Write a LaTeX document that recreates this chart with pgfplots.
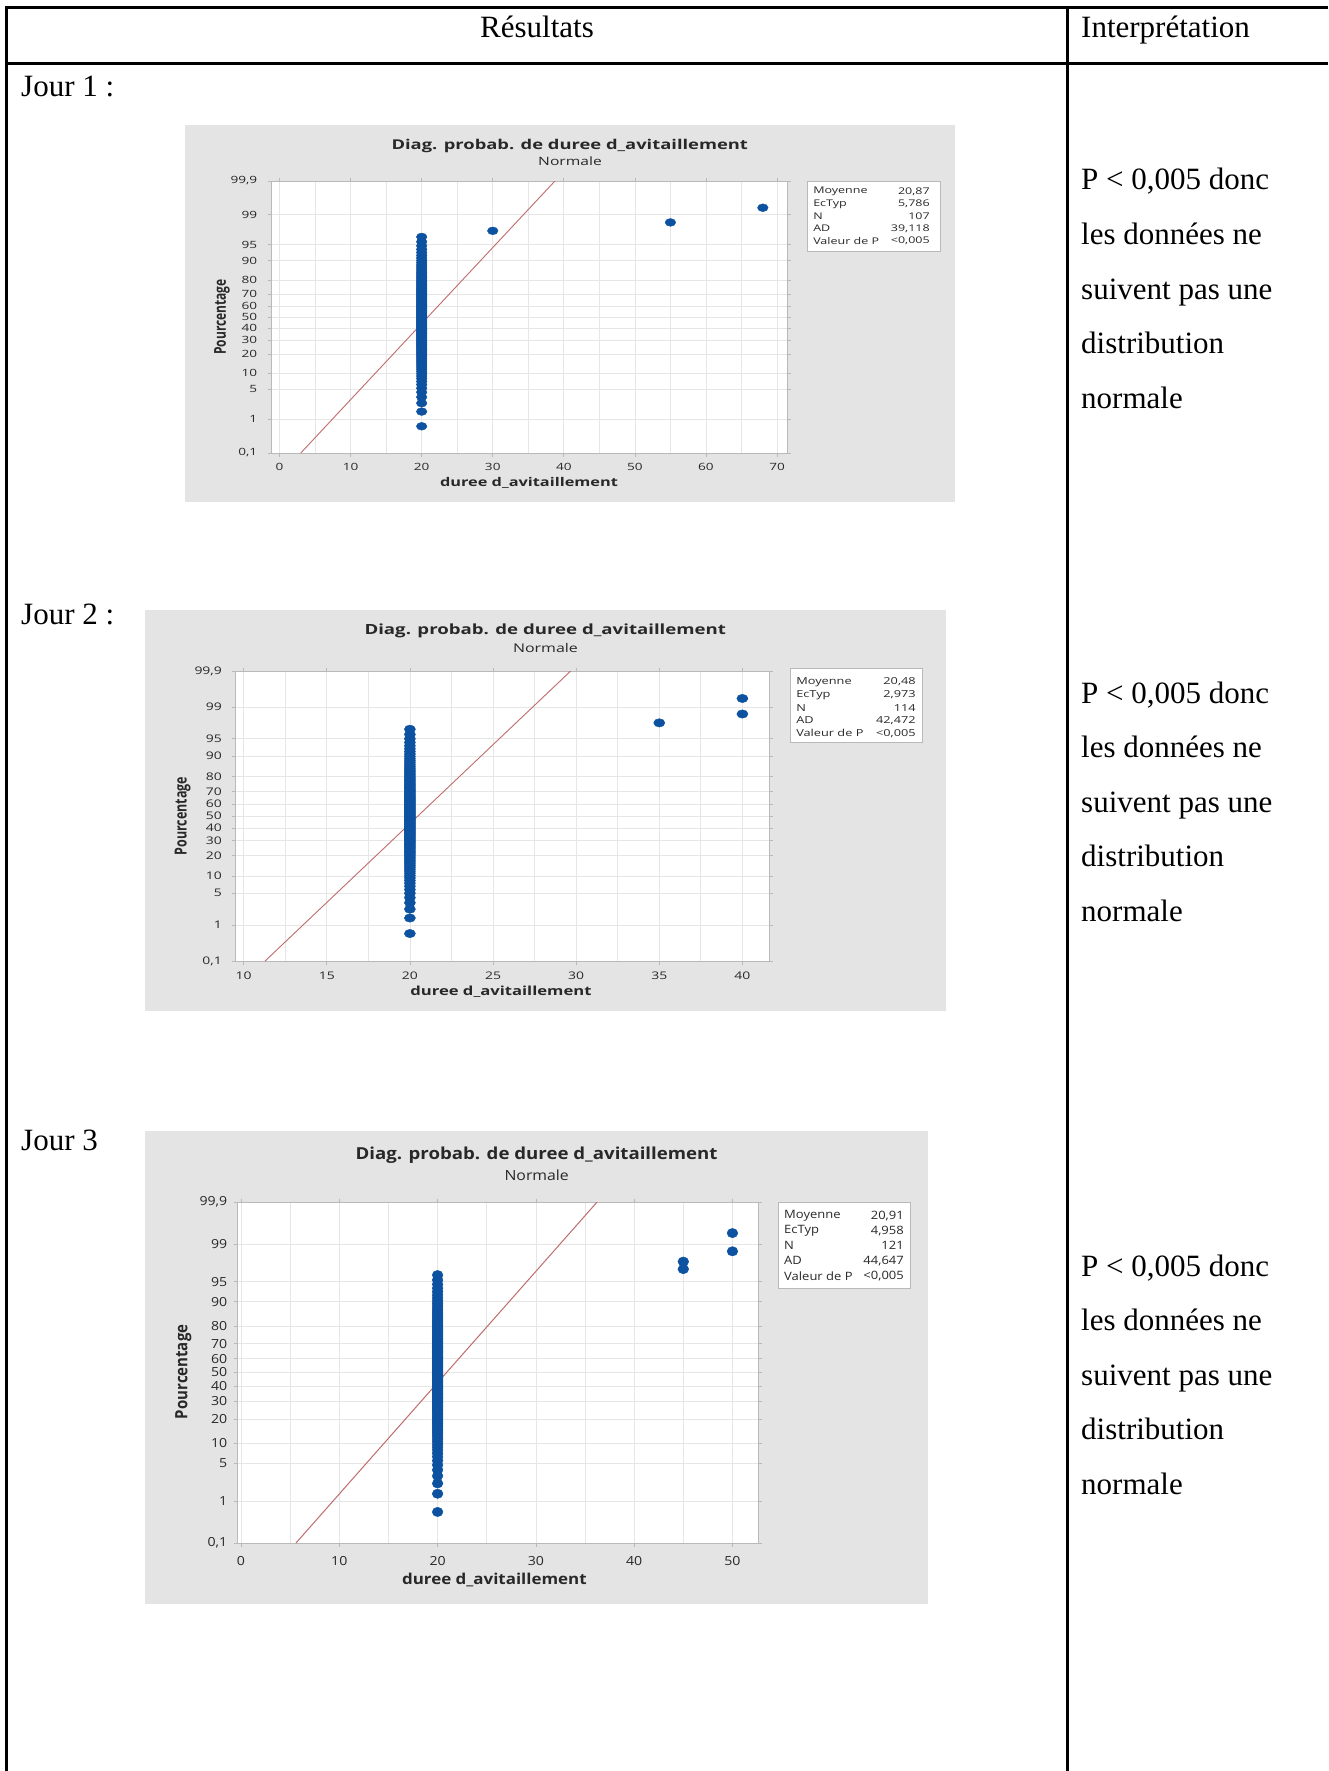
\documentclass[border=0pt]{standalone}
\usepackage{fontspec}
\setmainfont{Liberation Serif}
\newfontfamily\mtb{Open Sans}
\usepackage{pgfplots}
\usepackage{pgfplotstable}
\pgfplotsset{compat=1.18}

\newcommand{\fs}[1]{\fontsize{#1}{#1}\selectfont}
\definecolor{bggray}{RGB}{228,228,228}
\definecolor{gridgray}{RGB}{230,230,230}
\definecolor{framegray}{RGB}{185,185,185}
\definecolor{mtbblue}{RGB}{12,82,160}
\definecolor{fitred}{RGB}{192,108,108}
\definecolor{mtbtext}{RGB}{40,40,40}

% day 1 : duree d'avitaillement (x) and normal score of the plotting position (z)
\pgfplotstableread[row sep=\\]{
x z\\
20 -2.483\\ 20 -2.149\\ 20 -1.958\\ 20 -1.820\\ 20 -1.709\\ 20 -1.617\\ 20 -1.536\\ 20 -1.464\\ 20 -1.399\\ 20 -1.339\\
20 -1.284\\ 20 -1.232\\ 20 -1.184\\ 20 -1.138\\ 20 -1.095\\ 20 -1.053\\ 20 -1.013\\ 20 -0.975\\ 20 -0.938\\ 20 -0.903\\
20 -0.868\\ 20 -0.834\\ 20 -0.802\\ 20 -0.770\\ 20 -0.739\\ 20 -0.709\\ 20 -0.679\\ 20 -0.650\\ 20 -0.621\\ 20 -0.593\\
20 -0.566\\ 20 -0.539\\ 20 -0.512\\ 20 -0.485\\ 20 -0.459\\ 20 -0.433\\ 20 -0.408\\ 20 -0.383\\ 20 -0.358\\ 20 -0.333\\
20 -0.308\\ 20 -0.284\\ 20 -0.260\\ 20 -0.236\\ 20 -0.212\\ 20 -0.188\\ 20 -0.164\\ 20 -0.141\\ 20 -0.117\\ 20 -0.094\\
20 -0.070\\ 20 -0.047\\ 20 -0.023\\ 20 0.000\\
20 0.023\\ 20 0.047\\ 20 0.070\\ 20 0.094\\ 20 0.117\\ 20 0.141\\ 20 0.164\\ 20 0.188\\ 20 0.212\\ 20 0.236\\
20 0.260\\ 20 0.284\\ 20 0.308\\ 20 0.333\\ 20 0.358\\ 20 0.383\\ 20 0.408\\ 20 0.433\\ 20 0.459\\ 20 0.485\\
20 0.512\\ 20 0.539\\ 20 0.566\\ 20 0.593\\ 20 0.621\\ 20 0.650\\ 20 0.679\\ 20 0.709\\ 20 0.739\\ 20 0.770\\
20 0.802\\ 20 0.834\\ 20 0.868\\ 20 0.903\\ 20 0.938\\ 20 0.975\\ 20 1.013\\ 20 1.053\\ 20 1.095\\ 20 1.138\\
20 1.184\\ 20 1.232\\ 20 1.284\\ 20 1.339\\ 20 1.399\\ 20 1.464\\ 20 1.536\\ 20 1.617\\ 20 1.709\\ 20 1.820\\
30 1.958\\ 55 2.149\\ 68 2.483\\
}\dayone

\pgfplotstableread[row sep=\\]{
x z\\
20 -2.505\\ 20 -2.174\\ 20 -1.985\\ 20 -1.849\\ 20 -1.739\\ 20 -1.647\\ 20 -1.568\\ 20 -1.497\\ 20 -1.433\\ 20 -1.374\\
20 -1.320\\ 20 -1.269\\ 20 -1.221\\ 20 -1.176\\ 20 -1.134\\ 20 -1.093\\ 20 -1.054\\ 20 -1.017\\ 20 -0.981\\ 20 -0.946\\
20 -0.912\\ 20 -0.879\\ 20 -0.847\\ 20 -0.816\\ 20 -0.786\\ 20 -0.757\\ 20 -0.728\\ 20 -0.700\\ 20 -0.672\\ 20 -0.645\\
20 -0.618\\ 20 -0.592\\ 20 -0.566\\ 20 -0.540\\ 20 -0.515\\ 20 -0.490\\ 20 -0.466\\ 20 -0.441\\ 20 -0.417\\ 20 -0.393\\
20 -0.370\\ 20 -0.347\\ 20 -0.323\\ 20 -0.300\\ 20 -0.277\\ 20 -0.255\\ 20 -0.232\\ 20 -0.210\\ 20 -0.187\\ 20 -0.165\\
20 -0.143\\ 20 -0.121\\ 20 -0.099\\ 20 -0.077\\ 20 -0.055\\ 20 -0.033\\ 20 -0.011\\
20 0.011\\ 20 0.033\\ 20 0.055\\ 20 0.077\\ 20 0.099\\ 20 0.121\\ 20 0.143\\ 20 0.165\\ 20 0.187\\ 20 0.210\\
20 0.232\\ 20 0.255\\ 20 0.277\\ 20 0.300\\ 20 0.323\\ 20 0.347\\ 20 0.370\\ 20 0.393\\ 20 0.417\\ 20 0.441\\
20 0.466\\ 20 0.490\\ 20 0.515\\ 20 0.540\\ 20 0.566\\ 20 0.592\\ 20 0.618\\ 20 0.645\\ 20 0.672\\ 20 0.700\\
20 0.728\\ 20 0.757\\ 20 0.786\\ 20 0.816\\ 20 0.847\\ 20 0.879\\ 20 0.912\\ 20 0.946\\ 20 0.981\\ 20 1.017\\
20 1.054\\ 20 1.093\\ 20 1.134\\ 20 1.176\\ 20 1.221\\ 20 1.269\\ 20 1.320\\ 20 1.374\\ 20 1.433\\ 20 1.497\\
20 1.568\\ 20 1.647\\ 20 1.739\\ 20 1.849\\
35 1.985\\ 40 2.174\\ 40 2.505\\
}\daytwo

\pgfplotstableread[row sep=\\]{
x z\\
20 -2.527\\ 20 -2.197\\ 20 -2.010\\ 20 -1.874\\ 20 -1.766\\ 20 -1.676\\ 20 -1.598\\ 20 -1.528\\ 20 -1.464\\ 20 -1.406\\
20 -1.353\\ 20 -1.303\\ 20 -1.256\\ 20 -1.212\\ 20 -1.170\\ 20 -1.130\\ 20 -1.092\\ 20 -1.055\\ 20 -1.020\\ 20 -0.985\\
20 -0.952\\ 20 -0.920\\ 20 -0.889\\ 20 -0.859\\ 20 -0.829\\ 20 -0.801\\ 20 -0.772\\ 20 -0.745\\ 20 -0.718\\ 20 -0.692\\
20 -0.666\\ 20 -0.640\\ 20 -0.615\\ 20 -0.590\\ 20 -0.566\\ 20 -0.542\\ 20 -0.518\\ 20 -0.494\\ 20 -0.471\\ 20 -0.448\\
20 -0.426\\ 20 -0.403\\ 20 -0.381\\ 20 -0.359\\ 20 -0.337\\ 20 -0.315\\ 20 -0.293\\ 20 -0.272\\ 20 -0.250\\ 20 -0.229\\
20 -0.208\\ 20 -0.187\\ 20 -0.166\\ 20 -0.145\\ 20 -0.124\\ 20 -0.103\\ 20 -0.083\\ 20 -0.062\\ 20 -0.041\\ 20 -0.021\\
20 0.000\\
20 0.021\\ 20 0.041\\ 20 0.062\\ 20 0.083\\ 20 0.103\\ 20 0.124\\ 20 0.145\\ 20 0.166\\ 20 0.187\\ 20 0.208\\
20 0.229\\ 20 0.250\\ 20 0.272\\ 20 0.293\\ 20 0.315\\ 20 0.337\\ 20 0.359\\ 20 0.381\\ 20 0.403\\ 20 0.426\\
20 0.448\\ 20 0.471\\ 20 0.494\\ 20 0.518\\ 20 0.542\\ 20 0.566\\ 20 0.590\\ 20 0.615\\ 20 0.640\\ 20 0.666\\
20 0.692\\ 20 0.718\\ 20 0.745\\ 20 0.772\\ 20 0.801\\ 20 0.829\\ 20 0.859\\ 20 0.889\\ 20 0.920\\ 20 0.952\\
20 0.985\\ 20 1.020\\ 20 1.055\\ 20 1.092\\ 20 1.130\\ 20 1.170\\ 20 1.212\\ 20 1.256\\ 20 1.303\\ 20 1.353\\
20 1.406\\ 20 1.464\\ 20 1.528\\ 20 1.598\\ 20 1.676\\ 20 1.766\\
45 1.874\\ 45 2.010\\ 50 2.197\\ 50 2.527\\
}\daythree

\pgfplotsset{
  mtbaxis/.style={
    scale only axis,
    clip mode=individual,
    axis background/.style={fill=white},
    axis line style={draw=framegray, line width=0.8pt},
    /pgf/number format/assume math mode=true,
    every axis title shift=0pt,
    ymin=-3.0902, ymax=3.0902,
    ytick={-3.0902,-2.3263,-1.6449,-1.2816,-0.8416,-0.5244,-0.2533,0,0.2533,0.5244,0.8416,1.2816,1.6449,2.3263,3.0902},
    yticklabels={{0,1},1,5,10,20,30,40,50,60,70,80,90,95,99,{99,9}},
    minor x tick num=1,
    grid=both,
    major grid style={draw=gridgray, line width=0.7pt},
    minor grid style={draw=gridgray, line width=0.7pt},
    tick align=outside,
    major tick length=3.5pt,
    minor tick length=0pt,
    tick style={draw=framegray, line width=0.7pt},
    tick label style={text=mtbtext},
    every axis label/.append style={text=mtbtext},
    every axis title/.append style={text=mtbtext},
  },
}

\newcommand{\srow}[6]{%
  \node[anchor=west,#6] at (#1pt,-#3pt) {#4};
  \node[anchor=east,#6] at (#2pt,-#3pt) {#5};}

\tikzset{
  body/.style={anchor=base west, inner sep=0pt, font=\fs{31}},
  lgA/.style={font=\mtb\fs{9.2}, text=mtbtext, xscale=1.36, inner sep=0pt},
  lgB/.style={font=\mtb\fs{9.6}, text=mtbtext, xscale=1.33, inner sep=0pt},
  lgC/.style={font=\mtb\fs{11.5}, text=mtbtext, xscale=1.13, inner sep=0pt},
}

\begin{document}
\begin{tikzpicture}
\useasboundingbox (0,0) rectangle (1328pt,-1771pt);
\fill[white] (0,0) rectangle (1328pt,-1771pt);

% ---------- table ----------
\draw[line width=3pt] (6pt,-1771pt) -- (6pt,-8pt) -- (1328pt,-8pt);
\draw[line width=3pt] (6pt,-64pt) -- (1328pt,-64pt);
\draw[line width=3pt] (1067pt,-8pt) -- (1067pt,-1771pt);

\node[anchor=base, inner sep=0pt, font=\fs{31}] at (537pt,-38pt) {Résultats};
\node[body] at (1081pt,-38pt) {Interprétation};
\node[body] at (21pt,-97pt) {Jour 1 :};
\node[body] at (21pt,-624pt) {Jour 2 :};
\node[body] at (21pt,-1150pt) {Jour 3};

\foreach \y/\t in {0/{P < 0,005 donc},1/{les données ne},2/{suivent pas une},3/{distribution},4/{normale}}{
  \node[body] at (1081pt,-190pt-\y*54.5pt) {\t};
  \node[body] at (1081pt,-703pt-\y*54.5pt) {\t};
  \node[body] at (1081pt,-1276pt-\y*54.5pt) {\t};
}

% ---------- chart 1 ----------
\fill[bggray] (185pt,-125pt) rectangle (955pt,-502pt);
\begin{axis}[mtbaxis,
  at={(271pt,-453pt)}, anchor=south west, width=516pt, height=272pt,
  xmin=-1.2, xmax=71.4, xtick={0,10,...,70},
  tick label style={font=\mtb\fs{10}, xscale=1.36},
  xticklabel style={yshift=-3.4pt},
  yticklabel style={xshift=-4pt},
  title={\bfseries Diag. probab. de duree d\_avitaillement},
  title style={at={(0.579,1.128)}, anchor=center, font=\mtb\fs{13.5}, xscale=1.36},
  xlabel={\bfseries duree d\_avitaillement},
  xlabel style={at={(axis description cs:0.5,-0.109)}, anchor=center, font=\mtb\fs{12}, xscale=1.36},
  ylabel={\bfseries Pourcentage},
  ylabel style={at={(axis description cs:-0.095,0.5)}, anchor=center, font=\mtb\fs{12}, yscale=1.36},
]
\addplot[fitred, line width=0.9pt] coordinates {(2.99,-3.0902) (38.75,3.0902)};
\addplot[only marks, mark=*, mark size=3.9pt, color=mtbblue, mark options={xscale=1.36}] table[x=x,y=z] {\dayone};
\end{axis}
\node[font=\mtb\fs{11.5}, text=mtbtext, xscale=1.36] at (570pt,-161.5pt) {Normale};
\draw[framegray, fill=white, line width=0.6pt] (807pt,-181pt) rectangle (940pt,-251pt);
\srow{813}{930}{191.7}{Moyenne}{20,87}{lgA}
\srow{813}{930}{204}{EcTyp}{5,786}{lgA}
\srow{813}{930}{216.3}{N}{107}{lgA}
\srow{813}{930}{228.6}{AD}{39,118}{lgA}
\srow{813}{930}{240.9}{Valeur de P}{<0,005}{lgA}

% ---------- chart 2 ----------
\fill[bggray] (145pt,-610pt) rectangle (946pt,-1011pt);
\begin{axis}[mtbaxis,
  at={(235pt,-961pt)}, anchor=south west, width=534pt, height=290pt,
  xmin=9.48, xmax=41.6, xtick={10,15,...,40},
  tick label style={font=\mtb\fs{10.5}, xscale=1.33},
  xticklabel style={yshift=-3.8pt},
  yticklabel style={xshift=-3.7pt},
  title={\bfseries Diag. probab. de duree d\_avitaillement},
  title style={at={(0.581,1.138)}, anchor=center, font=\mtb\fs{14}, xscale=1.33},
  xlabel={\bfseries duree d\_avitaillement},
  xlabel style={at={(axis description cs:0.498,-0.106)}, anchor=center, font=\mtb\fs{12.5}, xscale=1.33},
  ylabel={\bfseries Pourcentage},
  ylabel style={at={(axis description cs:-0.098,0.5)}, anchor=center, font=\mtb\fs{12.5}, yscale=1.33},
]
\addplot[fitred, line width=0.9pt] coordinates {(11.29,-3.0902) (29.67,3.0902)};
\addplot[only marks, mark=*, mark size=4.2pt, color=mtbblue, mark options={xscale=1.33}] table[x=x,y=z] {\daytwo};
\end{axis}
\node[font=\mtb\fs{12}, text=mtbtext, xscale=1.33] at (545.5pt,-647.7pt) {Normale};
\draw[framegray, fill=white, line width=0.6pt] (790pt,-668pt) rectangle (922pt,-742pt);
\srow{796}{916}{682}{Moyenne}{20,48}{lgB}
\srow{796}{916}{694.8}{EcTyp}{2,973}{lgB}
\srow{796}{916}{707.6}{N}{114}{lgB}
\srow{796}{916}{720.4}{AD}{42,472}{lgB}
\srow{796}{916}{733.2}{Valeur de P}{<0,005}{lgB}

% ---------- chart 3 ----------
\fill[bggray] (145pt,-1131pt) rectangle (928pt,-1604pt);
\begin{axis}[mtbaxis,
  at={(237pt,-1543pt)}, anchor=south west, width=521pt, height=341pt,
  xmin=-0.41, xmax=52.6, xtick={0,10,...,50},
  tick label style={font=\mtb\fs{12.5}, xscale=1.13},
  xticklabel style={yshift=-6.3pt},
  yticklabel style={xshift=-2pt},
  title={\bfseries Diag. probab. de duree d\_avitaillement},
  title style={at={(0.575,1.136)}, anchor=center, font=\mtb\fs{16.5}, xscale=1.13},
  xlabel={\bfseries duree d\_avitaillement},
  xlabel style={at={(axis description cs:0.494,-0.109)}, anchor=center, font=\mtb\fs{15}, xscale=1.13},
  ylabel={\bfseries Pourcentage},
  ylabel style={at={(axis description cs:-0.103,0.502)}, anchor=center, font=\mtb\fs{15}, yscale=1.13},
]
\addplot[fitred, line width=1pt] coordinates {(5.59,-3.0902) (36.23,3.0902)};
\addplot[only marks, mark=*, mark size=4.7pt, color=mtbblue, mark options={xscale=1.15}] table[x=x,y=z] {\daythree};
\end{axis}
\node[font=\mtb\fs{14}, text=mtbtext, xscale=1.13] at (536.7pt,-1175.7pt) {Normale};
\draw[framegray, fill=white, line width=0.6pt] (778pt,-1202pt) rectangle (910pt,-1288pt);
\srow{784}{904}{1215.7}{Moyenne}{20,91}{lgC}
\srow{784}{904}{1230.7}{EcTyp}{4,958}{lgC}
\srow{784}{904}{1245.7}{N}{121}{lgC}
\srow{784}{904}{1260.7}{AD}{44,647}{lgC}
\srow{784}{904}{1275.7}{Valeur de P}{<0,005}{lgC}
\end{tikzpicture}
\end{document}
